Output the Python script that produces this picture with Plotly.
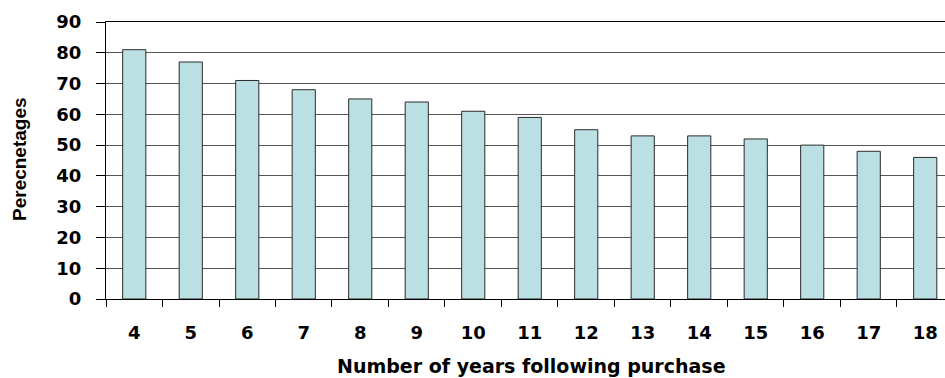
import plotly.graph_objects as go

years = ["4", "5", "6", "7", "8", "9", "10", "11", "12", "13", "14", "15", "16", "17", "18"]
percentages = [81, 77, 71, 68, 65, 64, 61, 59, 55, 53, 53, 52, 50, 48, 46]
y_ticks = [0, 10, 20, 30, 40, 50, 60, 70, 80, 90]

x_title = "Number of years following purchase"
y_title = "Perecnetages"

FONT = "DejaVu Sans"

fig = go.Figure(
    go.Bar(
        x=years,
        y=percentages,
        marker=dict(color="#BBE0E3", line=dict(color="#2a2a2a", width=1)),
        width=0.41,
    )
)

fig.update_layout(
    width=945,
    height=378,
    margin=dict(l=106, r=0, t=22, b=79),
    paper_bgcolor="white",
    plot_bgcolor="white",
    showlegend=False,
    font=dict(family=FONT, color="black"),
)

fig.update_xaxes(
    type="category",
    range=[-0.5, 14.35],
    tickson="boundaries",
    ticks="outside",
    ticklen=7,
    tickcolor="black",
    tickwidth=1,
    showline=True,
    linecolor="black",
    linewidth=1,
    mirror=True,
    showgrid=False,
    tickfont=dict(family=FONT, size=18, weight="bold", color="black"),
    ticklabelstandoff=17,
)

fig.update_yaxes(
    range=[0, 90],
    tickvals=y_ticks,
    ticks="outside",
    ticklen=9,
    tickcolor="black",
    tickwidth=1,
    showline=True,
    linecolor="black",
    linewidth=1,
    showgrid=True,
    gridcolor="#555555",
    gridwidth=1,
    zeroline=False,
    tickfont=dict(family=FONT, size=18, weight="bold", color="black"),
    ticklabelstandoff=11,
)

fig.add_annotation(
    text=x_title,
    xref="paper", yref="paper",
    x=(531 - 106) / 839, y=(299 - 366) / 277,
    xanchor="center", yanchor="middle",
    showarrow=False,
    font=dict(family=FONT, size=19, weight="bold", color="black"),
)

fig.add_annotation(
    text=y_title,
    xref="paper", yref="paper",
    x=(19 - 106) / 839, y=(299 - 159) / 277,
    xanchor="center", yanchor="middle",
    textangle=-90,
    showarrow=False,
    font=dict(family="Liberation Sans", size=19, weight="bold", color="black"),
)

fig.write_html("out.html")
